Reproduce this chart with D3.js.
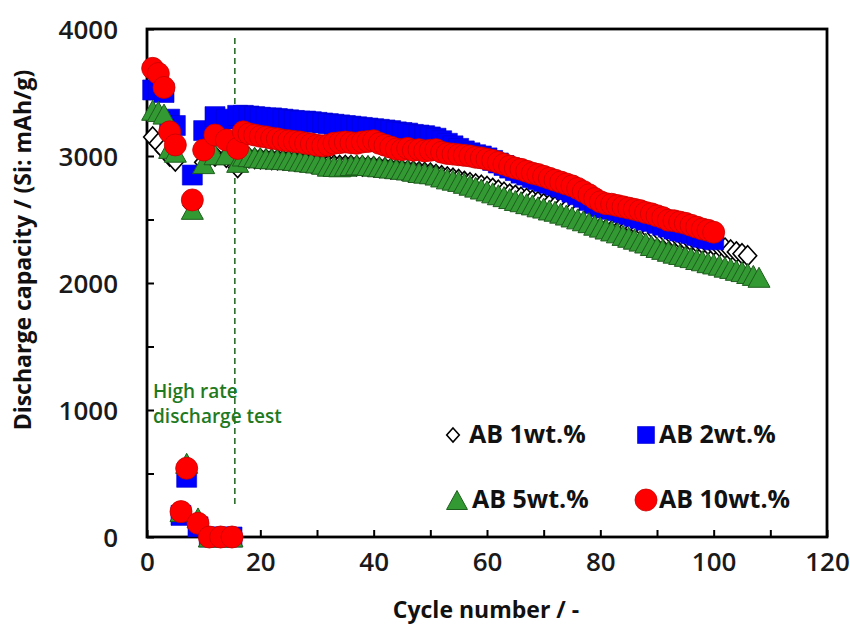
<!DOCTYPE html>
<html>
<head>
<meta charset="utf-8">
<script src="https://cdn.jsdelivr.net/npm/d3@7"></script>
<style>
  body { margin: 0; background: #fff; }
  text { font-family: "Open Sans", "Noto Sans", sans-serif; }
</style>
</head>
<body>
<script>
var w = 850;
var h = 626;

// cycles 1-16 (incl. high rate test), then 17..end
var ab1Early  = [3150, 3100, 3050, 3000, 2960, 180, 540, 2610, 100, 2950, 0, 3000, 0, 2990, 0, 2910];
var ab2Early  = [3520, 3520, 3500, 3290, 3240, 170, 470, 2850, 80, 3200, 0, 3310, 0, 3290, 0, 3320];
var ab5Early  = [3360, 3350, 3330, 3060, 3030, 200, 580, 2580, 150, 2940, 0, 3010, 0, 3010, 0, 2950];
var ab10Early = [3690, 3650, 3540, 3190, 3087, 200, 541, 2654, 108, 3047, 0, 3165, 0, 3126, 0, 3060];

var ab1Late = [2990, 2985, 2980, 2978, 2975, 2972, 2970, 2968, 2965, 2960,
  2955, 2950, 2945, 2940, 2935, 2930, 2928, 2925, 2925, 2925,
  2922, 2920, 2918, 2915, 2910, 2905, 2900, 2895, 2890, 2885,
  2880, 2875, 2870, 2865, 2855, 2845, 2835, 2825, 2815, 2800,
  2790, 2780, 2770, 2760, 2745, 2730, 2715, 2700, 2690, 2675,
  2665, 2650, 2640, 2625, 2615, 2600, 2590, 2575, 2560, 2550,
  2535, 2520, 2505, 2490, 2480, 2470, 2460, 2450, 2440, 2430,
  2420, 2410, 2400, 2390, 2380, 2370, 2360, 2350, 2340, 2330,
  2320, 2310, 2305, 2300, 2290, 2275, 2260, 2245, 2230, 2215];

var ab2Late = [3320, 3315, 3310, 3305, 3300, 3300, 3295, 3290, 3285, 3280,
  3275, 3275, 3270, 3265, 3260, 3255, 3250, 3245, 3240, 3235,
  3230, 3225, 3220, 3215, 3210, 3205, 3200, 3190, 3185, 3180,
  3170, 3165, 3160, 3150, 3140, 3120, 3100, 3080, 3060, 3040,
  3025, 3010, 3000, 2985, 2965, 2945, 2925, 2905, 2885, 2865,
  2850, 2830, 2815, 2800, 2785, 2770, 2755, 2735, 2715, 2695,
  2675, 2650, 2625, 2600, 2590, 2580, 2570, 2555, 2540, 2525,
  2510, 2495, 2485, 2470, 2455, 2440, 2425, 2410, 2400, 2390,
  2375, 2360, 2350, 2340];

var ab5Late = [3000, 2995, 2990, 2985, 2980, 2978, 2975, 2972, 2970, 2965,
  2960, 2955, 2950, 2945, 2935, 2920, 2918, 2915, 2920, 2925,
  2930, 2930, 2925, 2920, 2915, 2910, 2905, 2900, 2895, 2890,
  2880, 2870, 2865, 2860, 2850, 2835, 2820, 2810, 2800, 2785,
  2770, 2755, 2740, 2725, 2710, 2695, 2680, 2665, 2650, 2640,
  2625, 2615, 2600, 2590, 2575, 2565, 2550, 2535, 2520, 2505,
  2490, 2475, 2455, 2440, 2425, 2410, 2395, 2375, 2360, 2345,
  2330, 2315, 2295, 2280, 2265, 2250, 2235, 2225, 2210, 2200,
  2185, 2175, 2160, 2150, 2140, 2125, 2115, 2100, 2090, 2075,
  2060, 2045];

var ab10Late = [3190, 3175, 3165, 3155, 3150, 3140, 3135, 3125, 3120, 3115,
  3110, 3100, 3095, 3085, 3080, 3085, 3100, 3105, 3110, 3105,
  3100, 3110, 3115, 3120, 3100, 3085, 3070, 3055, 3050, 3060,
  3045, 3050, 3040, 3045, 3050, 3030, 3020, 3015, 3010, 3005,
  3000, 2990, 2985, 2975, 2965, 2950, 2935, 2920, 2905, 2895,
  2880, 2865, 2855, 2840, 2825, 2810, 2795, 2780, 2765, 2745,
  2720, 2695, 2665, 2640, 2625, 2620, 2610, 2600, 2590, 2580,
  2570, 2555, 2545, 2530, 2515, 2495, 2490, 2480, 2470, 2455,
  2440, 2425, 2415, 2400];

var seriesNames = ["AB 1wt.%", "AB 2wt.%", "AB 5wt.%", "AB 10wt.%"];
var xTicks = [0, 10, 20, 30, 40, 50, 60, 70, 80, 90, 100, 110, 120];
var yTicks = [0, 500, 1000, 1500, 2000, 2500, 3000, 3500, 4000];

var series = [
  { name: seriesNames[0], shape: "diamond",  values: ab1Early.concat(ab1Late) },
  { name: seriesNames[1], shape: "square",   values: ab2Early.concat(ab2Late) },
  { name: seriesNames[2], shape: "triangle", values: ab5Early.concat(ab5Late) },
  { name: seriesNames[3], shape: "circle",   values: ab10Early.concat(ab10Late) }
];

var svg = d3.select("body").append("svg")
            .attr("width", w)
            .attr("height", h);

var x = d3.scaleLinear().domain([0, 120]).range([147, 827]);
var y = d3.scaleLinear().domain([0, 4000]).range([537, 29]);

// marker shapes
function shapePath(shape, s) {
  if (shape == "diamond") return "M0," + (-10 * s) + "L" + (9 * s) + ",0L0," + (10 * s) + "L" + (-9 * s) + ",0Z";
  if (shape == "square") return "M" + (-10 * s) + "," + (-10 * s) + "h" + (20 * s) + "v" + (20 * s) + "h" + (-20 * s) + "Z";
  if (shape == "triangle") return "M0," + (-10 * s) + "L" + (11 * s) + "," + (10 * s) + "L" + (-11 * s) + "," + (10 * s) + "Z";
  return d3.arc()({ innerRadius: 0, outerRadius: 11 * s, startAngle: 0, endAngle: 2 * Math.PI });
}
var styles = {
  diamond:  { fill: "#ffffff", stroke: "#000000", sw: 1.6 },
  square:   { fill: "#0000ff", stroke: "#0000d0", sw: 0.6 },
  triangle: { fill: "#339933", stroke: "#1d5e1d", sw: 1 },
  circle:   { fill: "#ff0000", stroke: "#c80000", sw: 0.8 }
};

// axes (ticks inside)
var xAxis = svg.append("g")
   .attr("transform", "translate(0,537)")
   .call(d3.axisBottom(x).tickValues(xTicks).tickSize(-7).tickPadding(34)
         .tickFormat(function (d) { return d % 20 == 0 ? d : ""; }));
var yAxis = svg.append("g")
   .attr("transform", "translate(147,0)")
   .call(d3.axisLeft(y).tickValues(yTicks).tickSize(-7).tickPadding(29)
         .tickFormat(function (d) { return d % 1000 == 0 ? d : ""; }));
svg.selectAll(".domain").remove();
svg.selectAll(".tick line").attr("stroke", "#000").attr("stroke-width", 2);
svg.selectAll(".tick text")
   .attr("fill", "#1a1a1a")
   .style("font-size", "26px")
   .style("font-weight", "600")
   .style("font-family", "'Open Sans', sans-serif");
xAxis.selectAll(".tick text").attr("dy", "0");
yAxis.selectAll(".tick text").attr("dy", "0.36em");

// frame
svg.append("rect")
   .attr("x", x(0))
   .attr("y", y(4000))
   .attr("width", x(120) - x(0))
   .attr("height", y(0) - y(4000))
   .attr("fill", "none")
   .attr("stroke", "#000")
   .attr("stroke-width", 2.8);

// high rate marker line
svg.append("line")
   .attr("x1", x(15.5)).attr("x2", x(15.5))
   .attr("y1", y(3930)).attr("y2", y(240))
   .attr("stroke", "#2b6e2b")
   .attr("stroke-width", 1.6)
   .attr("stroke-dasharray", "6,4");

svg.append("text")
   .attr("x", 153).attr("y", 398)
   .attr("fill", "#1f7a1f")
   .style("font-size", "19px").style("font-weight", "600")
   .text("High rate");
svg.append("text")
   .attr("x", 153).attr("y", 423)
   .attr("fill", "#1f7a1f")
   .style("font-size", "19px").style("font-weight", "600")
   .text("discharge test");

// points
series.forEach(function (s) {
  var st = styles[s.shape];
  svg.append("g").selectAll("path")
     .data(s.values.map(function (v, i) { return { c: i + 1, v: v }; }))
     .enter().append("path")
     .attr("d", shapePath(s.shape, 1))
     .attr("transform", function (d) { return "translate(" + x(d.c) + "," + y(d.v) + ")"; })
     .attr("fill", st.fill)
     .attr("stroke", st.stroke)
     .attr("stroke-width", st.sw);
});

// legend
var legendPos = [[453, 435, 469, 443], [646, 435, 659, 443], [457, 500, 472, 508], [646, 500, 659, 508]];
var legendScale = [0.7, 0.85, 0.95, 1];
series.forEach(function (s, i) {
  var st = styles[s.shape];
  var p = legendPos[i];
  svg.append("path")
     .attr("d", shapePath(s.shape, legendScale[i]))
     .attr("transform", "translate(" + p[0] + "," + p[1] + ")")
     .attr("fill", st.fill)
     .attr("stroke", st.stroke)
     .attr("stroke-width", st.sw);
  svg.append("text")
     .attr("x", p[2]).attr("y", p[3])
     .attr("fill", "#111")
     .style("font-size", "25px").style("font-weight", "700")
     .text(s.name);
});

// axis titles
svg.append("text")
   .attr("x", 486).attr("y", 618)
   .attr("text-anchor", "middle")
   .attr("fill", "#111")
   .style("font-size", "23px").style("font-weight", "700")
   .text("Cycle number / -");
svg.append("text")
   .attr("transform", "translate(31,250) rotate(-90)")
   .attr("text-anchor", "middle")
   .attr("fill", "#111")
   .style("font-size", "23px").style("font-weight", "700")
   .text("Discharge capacity / (Si: mAh/g)");
</script>
</body>
</html>
